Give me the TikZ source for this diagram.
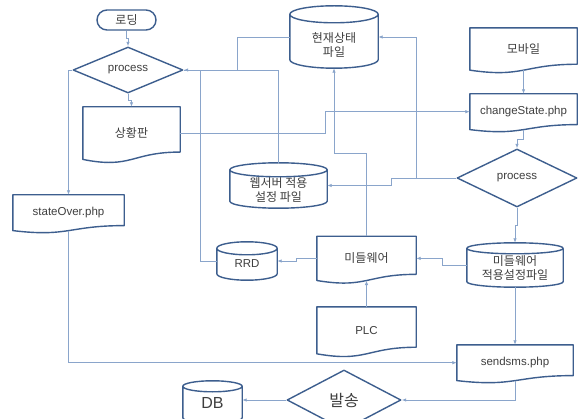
\documentclass[tikz,border=0pt]{standalone}
\usepackage{fontspec}
\setmainfont{Liberation Sans}
\newfontfamily\kr{Noto Sans CJK KR}
\usetikzlibrary{shapes.geometric,arrows.meta,calc}

\definecolor{edge}{HTML}{3D5E8E}
\definecolor{wire}{HTML}{8AA5CB}
\definecolor{ink}{HTML}{3F3F3F}

\tikzset{
  outline/.style={draw=edge, line width=1.4pt, line join=round},
  box/.style={rectangle, inner sep=0pt, text=ink, align=center,
    font=\fontsize{11.5}{14}\selectfont},
  krbox/.style={box, font=\kr\fontsize{12}{14}\selectfont},
  cantext/.style={text=ink, align=center, inner sep=0pt,
    font=\kr\fontsize{12}{14}\selectfont},
  decision/.style={diamond, outline, inner sep=0pt, text=ink,
    font=\fontsize{11.5}{14}\selectfont},
  terminal/.style={rectangle, rounded corners=10pt, outline, inner sep=0pt,
    text=ink, font=\kr\fontsize{12}{14}\selectfont},
  conn/.style={draw=wire, line width=0.8pt},
  arr/.style={conn, -{Latex[length=4.5pt,width=3.5pt]}},
}

% document symbol: flat top, wavy bottom; the node box ends where the wave crosses its middle
\newcommand\docoutline[1]{%
  \draw[outline] let \p1=(#1.south west), \p2=(#1.north east) in
    (\x1,\y2) -- (\x2,\y2)
    -- (\x2,{(\y1)+0.1395*((\y2)-(\y1))})
    .. controls ({0.5*(\x1)+0.5*(\x2)},{(\y1)+0.1395*((\y2)-(\y1))})
           and ({0.5*(\x1)+0.5*(\x2)},{(\y1)-0.1878*((\y2)-(\y1))})
    .. (\x1,\y1) -- cycle;}

% stored-data drum: #2 is the half height of the end ellipses
\newcommand\canoutline[2]{%
  \draw[outline] let \p1=(#1.south west), \p2=(#1.north east) in
    (\x1,{(\y2)-#2}) arc[start angle=180, end angle=-180,
        x radius={0.5*((\x2)-(\x1))}, y radius=#2]
    -- (\x1,{(\y1)+#2}) arc[start angle=180, end angle=360,
        x radius={0.5*((\x2)-(\x1))}, y radius=#2]
    -- (\x2,{(\y2)-#2});}

\begin{document}
\begin{tikzpicture}[x=1pt, y=-1pt]
\useasboundingbox (0,0) rectangle (580,419);
\fill[white] (0,0) rectangle (580,419);
\clip (0,0) rectangle (580,419);

% --- left column
\node[terminal, minimum width=59pt, minimum height=20pt] (load) at (126.5,20) {로딩};
\node[decision, minimum width=110pt, minimum height=46pt, shape aspect=2.4] (p1) at (128,70) {process};
\node[krbox, minimum width=97pt, minimum height=52.2pt] (status) at (131.5,133.1) {상황판};
\node[box, minimum width=111pt, minimum height=35.4pt] (over) at (68.5,212.7) {stateOver.php};

% --- stored files
\node[box, minimum width=88pt, minimum height=62pt,
  label={[cantext, yshift=-8.5pt]center:{현재상태\\파일}}] (cur) at (334,37) {};
\node[box, minimum width=97pt, minimum height=45pt,
  label={[cantext, yshift=-4.5pt]center:{웹서버 적용\\설정 파일}}] (web) at (278.5,185.5) {};
\node[box, minimum width=60pt, minimum height=38pt,
  label={[cantext, yshift=-3pt, font=\fontsize{11.5}{14}\selectfont]center:{RRD}}] (rrd) at (247,261) {};
\node[box, minimum width=96pt, minimum height=44pt,
  label={[cantext, yshift=-3.5pt]center:{미들웨어\\적용설정파일}}] (mwc) at (515,265) {};
\node[box, minimum width=59pt, minimum height=42pt,
  label={[cantext, yshift=-1pt, font=\fontsize{16}{18}\selectfont]center:{DB}}] (db) at (212.5,402) {};

% --- right column and middleware
\node[krbox, minimum width=107pt, minimum height=41.9pt] (mobile) at (523.5,49) {모바일};
\node[box, minimum width=107pt, minimum height=35.4pt] (chg) at (523.5,111.7) {changeState.php};
\node[decision, minimum width=120pt, minimum height=58pt, shape aspect=2.07] (p2) at (517,178) {process};
\node[krbox, minimum width=99pt, minimum height=43.8pt] (mw) at (366.5,258.4) {미들웨어};
\node[box, minimum width=99pt, minimum height=46.6pt] (plc) at (366.5,330.3) {PLC};
\node[box, minimum width=116pt, minimum height=35.4pt] (sms) at (515,362.7) {sendsms.php};
\node[decision, minimum width=114pt, minimum height=60pt, shape aspect=1.9,
  font=\kr\fontsize{16}{18}\selectfont] (bal) at (344,400) {발송};

% --- outlines of the custom symbols
\docoutline{status}
\docoutline{over}
\docoutline{mobile}
\docoutline{chg}
\docoutline{mw}
\docoutline{plc}
\docoutline{sms}
\canoutline{cur}{8.5pt}
\canoutline{web}{7pt}
\canoutline{rrd}{6.5pt}
\canoutline{mwc}{5.5pt}
\canoutline{db}{5.5pt}

% --- connectors
\draw[arr] (load.south) |- ($(load.south)!.5!(p1.north)$) -| (p1.north);
\draw[arr] (p1.south) |- ($(p1.south)!.5!(status.north)$) -| (status.north);
\draw[arr] (p1.west) -| (over.north);
\draw[arr] (cur.west) -| (237,70) -- (p1.east);
\draw[conn] (web.north) |- (p1.east);
\draw[conn] (rrd.west) -| (200,70) -- (p1.east);
\draw[arr] (status.east) -- ++(145,0) |- (chg.west);
\draw[arr] (mobile.south) -- (chg.north);
\draw[arr] (chg.south) |- ($(chg.south)!.5!(p2.north)$) -| (p2.north);
\draw[arr] (p2.west) -- ++(-40,0) |- (cur.east);
\draw[arr] (p2.west) -- ++(-65,0) |- (web.east);
\draw[arr] (p2.south) |- ($(p2.south)!.5!(mwc.north)$) -| (mwc.north);
\draw[arr] (mwc.west) -- ++(-24,0) |- (mw.east);
\draw[arr] (mw.west) -- ++(-20,0) |- (rrd.east);
\draw[arr] (mw.north) -- ++(0,-82.5) -| (cur.south);
\draw[arr] (plc.north) -- (mw.south);
\draw[arr] (mwc.south) -- (sms.north);
\draw[arr] (over.south) |- (sms.west);
\draw[arr] (sms.south) |- (bal.east);
\draw[arr] (bal.west) -- (db.east |- bal.west);
\end{tikzpicture}
\end{document}
